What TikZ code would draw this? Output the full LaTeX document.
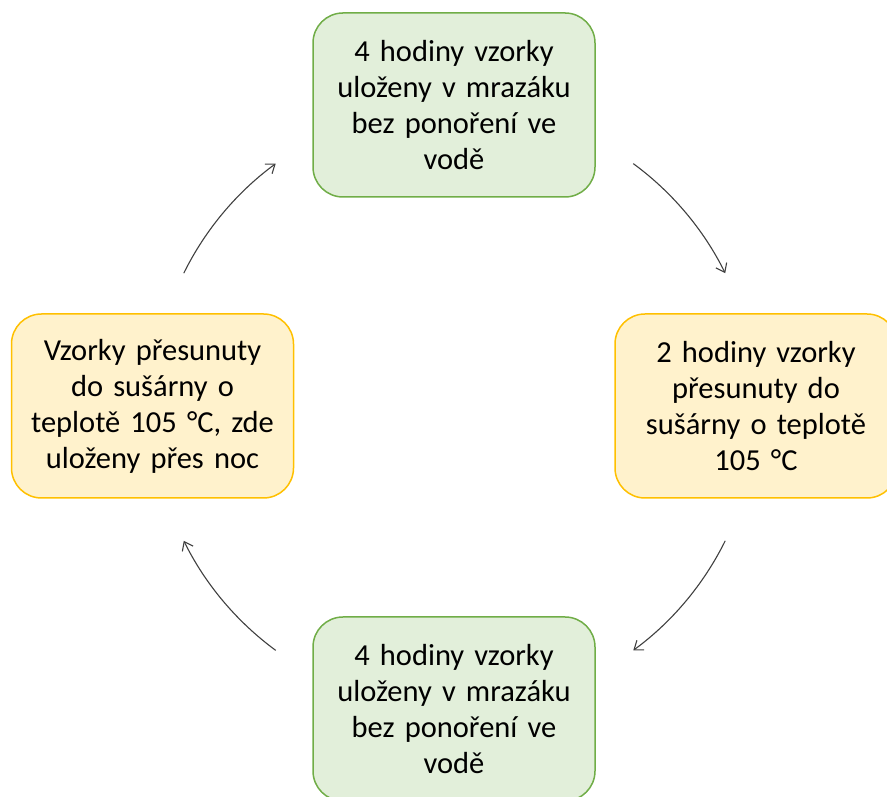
\documentclass[tikz,border=0pt]{standalone}
\usepackage{fontspec}
\setmainfont{Carlito}
\usepackage{tikz}
\usetikzlibrary{arrows.meta}
\definecolor{greenfill}{HTML}{E2EFDA}
\definecolor{greenline}{HTML}{70AD47}
\definecolor{yellowfill}{HTML}{FFF2CC}
\definecolor{yellowline}{HTML}{FFC000}
\definecolor{arrowgray}{HTML}{404040}
\tikzstyle{every box}=[rounded corners=30pt,line width=1.5pt,minimum width=282pt,minimum height=184pt,text width=270pt,align=center,font=\fontsize{30.5}{36}\selectfont]
\tikzstyle{greenbox}=[every box,draw=greenline,fill=greenfill]
\tikzstyle{yellowbox}=[every box,draw=yellowline,fill=yellowfill]
\tikzstyle{cycle arrow}=[arrowgray,line width=1.1pt,-{Straight Barb[length=8pt,width=12pt]}]

\begin{document}
\begin{tikzpicture}[x=1pt,y=1pt]
\useasboundingbox (0,0) rectangle (887,797);
\clip (0,0) rectangle (887,797);
\coordinate (c) at (454.5,390);
\node[greenbox] (freeze1) at (454,692) {4 hodiny vzorky\\ uloženy v mrazáku\\ bez ponoření ve\\ vodě};
\node[yellowbox] (dry1) at (756,391) {2 hodiny vzorky\\ přesunuty do\\ sušárny o teplotě\\ 105 °C};
\node[greenbox] (freeze2) at (454,88) {4 hodiny vzorky\\ uloženy v mrazáku\\ bez ponoření ve\\ vodě};
\node[yellowbox] (dry2) at (152.5,391) {Vzorky přesunuty\\ do sušárny o\\ teplotě 105 °C, zde\\ uloženy přes noc};
\foreach \a/\b in {53.7/26.3, -26.3/-53.7, 233.7/206.3, 153.7/126.3}
  \draw[cycle arrow] (c) ++(\a:302) arc[start angle=\a, end angle=\b, radius=302];
\end{tikzpicture}
\end{document}
